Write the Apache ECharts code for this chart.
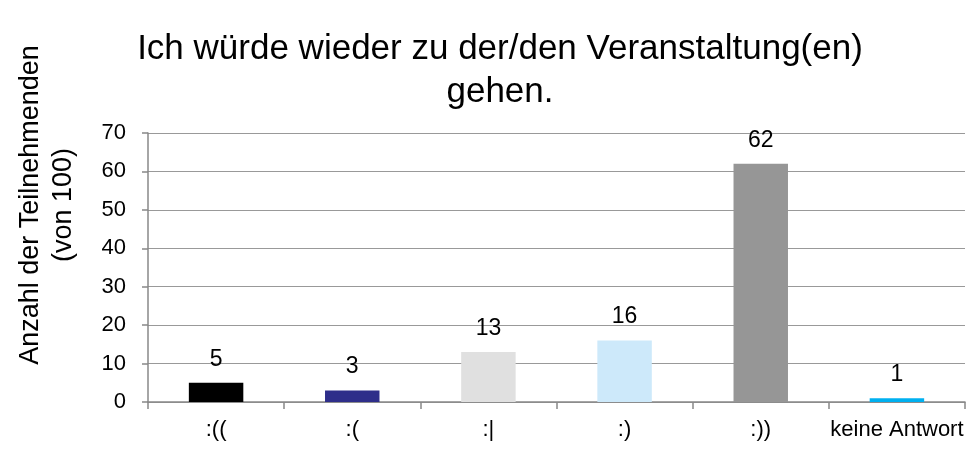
<!DOCTYPE html>
<html>
<head>
<meta charset="utf-8">
<script src="https://cdn.jsdelivr.net/npm/echarts@6/dist/echarts.min.js"></script>
<style>
  html, body { margin: 0; padding: 0; background: #fff; }
  #chart { width: 969px; height: 450px; }
</style>
</head>
<body>
<div id="chart"></div>
<script>
// Daten
const categories = [':((', ':(', ':|', ':)', ':))', 'keine Antwort'];
const values = [5, 3, 13, 16, 62, 1];
const barColors = ['#000000', '#2e2e8a', '#e0e0e0', '#cde9fa', '#969696', '#00b0f0'];
const yTicks = [0, 10, 20, 30, 40, 50, 60, 70];

const font = 'Liberation Sans, Arial, sans-serif';
const chart = echarts.init(document.getElementById('chart'));

chart.setOption({
  animation: false,
  title: {
    text: 'Ich würde wieder zu der/den Veranstaltung(en)\ngehen.',
    left: 495,
    top: 23,
    textAlign: 'center',
    textStyle: {
      fontFamily: font,
      fontSize: 35,
      fontWeight: 'normal',
      color: '#000',
      lineHeight: 43
    }
  },
  graphic: [{
    type: 'text',
    x: 47,
    y: 205,
    rotation: Math.PI / 2,
    style: {
      text: 'Anzahl der Teilnehmenden\n(von 100)',
      font: '27px ' + font,
      fill: '#000',
      align: 'center',
      verticalAlign: 'middle',
      lineHeight: 33
    }
  }],
  grid: { left: 148, right: 4, top: 133, bottom: 48 },
  xAxis: {
    type: 'category',
    data: categories,
    axisLine: { lineStyle: { color: '#888', width: 1.5 } },
    axisTick: { show: true, length: 7, lineStyle: { color: '#888', width: 1.5 } },
    axisLabel: {
      interval: 0,
      fontFamily: font,
      fontSize: 22,
      color: '#000',
      margin: 17
    }
  },
  yAxis: {
    type: 'value',
    min: yTicks[0],
    max: yTicks[yTicks.length - 1],
    interval: 10,
    axisLine: { show: true, lineStyle: { color: '#888', width: 1.5 } },
    axisTick: { show: true, length: 6, lineStyle: { color: '#888', width: 1.5 } },
    splitLine: { lineStyle: { color: '#999', width: 1.2 } },
    axisLabel: {
      fontFamily: font,
      fontSize: 22,
      color: '#000',
      margin: 22
    }
  },
  series: [{
    type: 'bar',
    barWidth: '40%',
    data: values.map((v, i) => ({ value: v, itemStyle: { color: barColors[i] } })),
    label: {
      show: true,
      position: 'top',
      distance: 12,
      fontFamily: font,
      fontSize: 23,
      color: '#000'
    }
  }]
});
</script>
</body>
</html>
